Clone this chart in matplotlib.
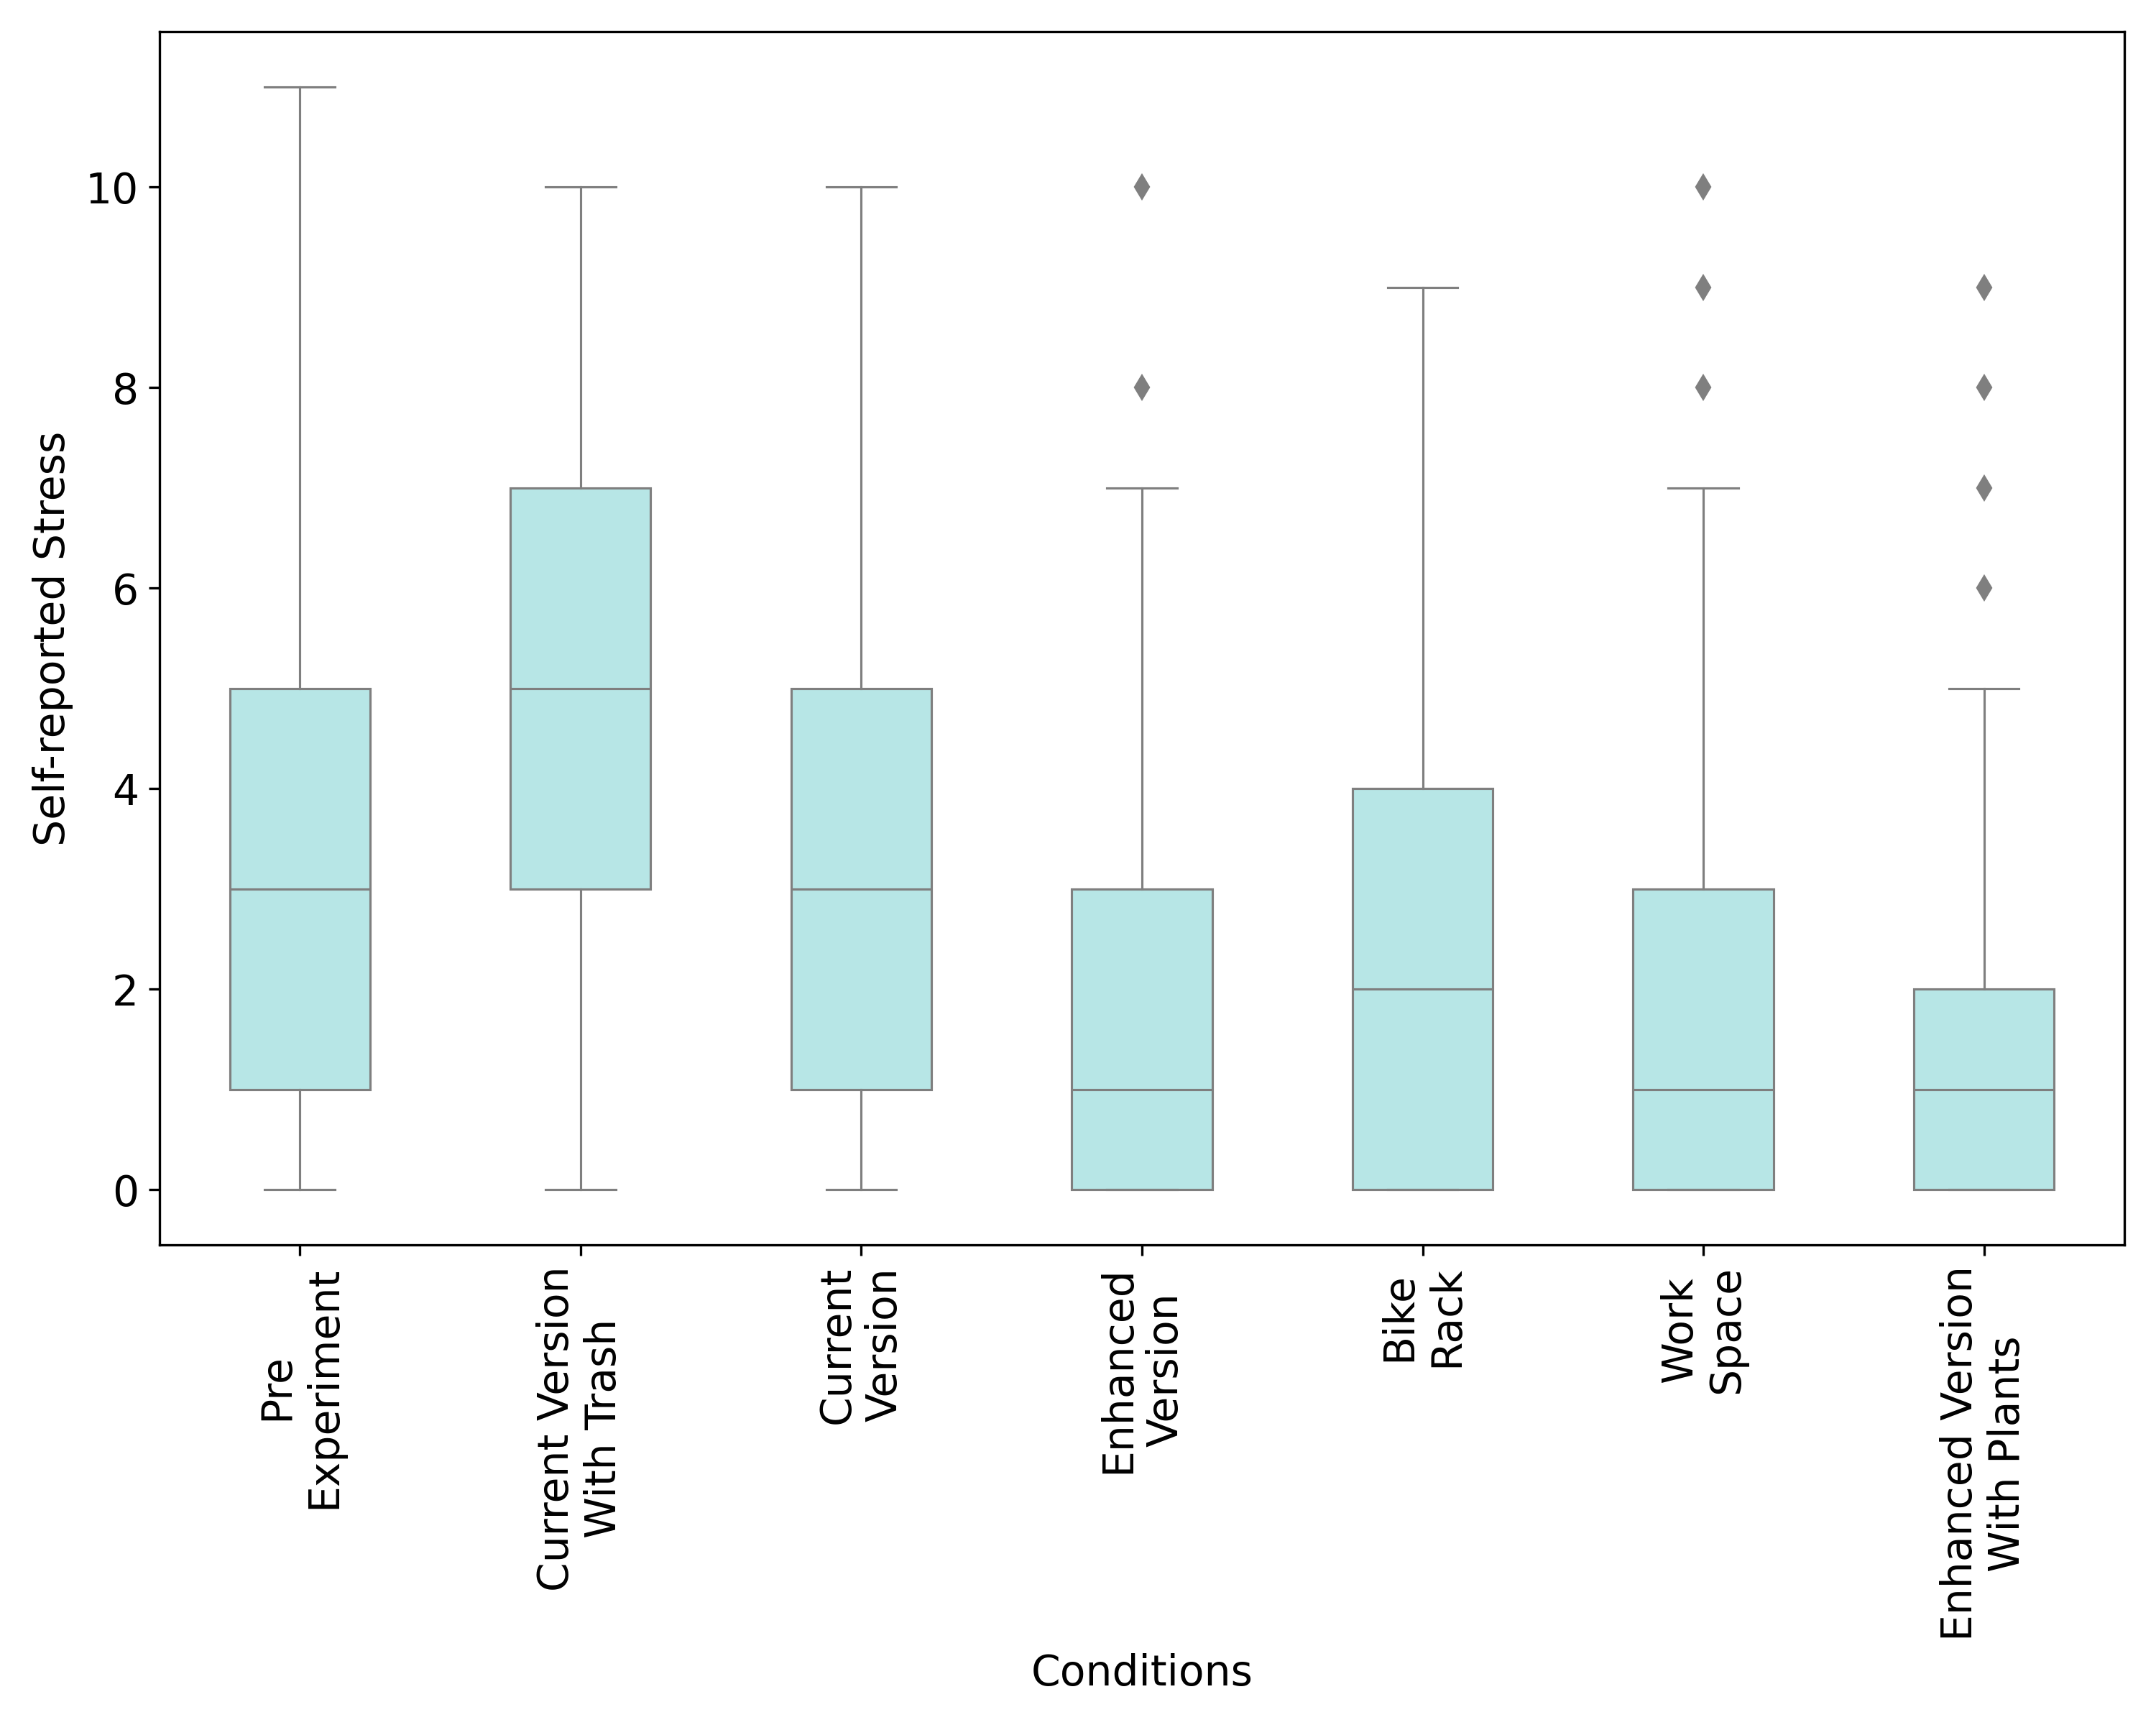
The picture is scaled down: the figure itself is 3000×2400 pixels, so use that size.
import matplotlib
matplotlib.use("Agg")
import matplotlib.pyplot as plt

# conditions and box summary values
conditions = ["Pre\nExperiment", "Current Version\nWith Trash", "Current\nVersion",
              "Enhanced\nVersion", "Bike\nRack", "Work\nSpace",
              "Enhanced Version\nWith Plants"]
whis_low = [0, 0, 0, 0, 0, 0, 0]
q1 = [1, 3, 1, 0, 0, 0, 0]
median = [3, 5, 3, 1, 2, 1, 1]
q3 = [5, 7, 5, 3, 4, 3, 2]
whis_high = [11, 10, 10, 7, 9, 7, 5]
outliers = [[], [], [], [8, 10], [], [8, 9, 10], [6, 7, 8, 9]]

stats = []
for i in range(len(conditions)):
    stats.append({"whislo": whis_low[i], "q1": q1[i], "med": median[i],
                  "q3": q3[i], "whishi": whis_high[i], "fliers": outliers[i]})

line_col = "#7f7f7f"
box_col = "#b7e6e6"

fig = plt.figure(figsize=(10, 8), dpi=300)
ax = fig.add_axes([0.074, 0.2783, 0.9113, 0.7034])

ax.bxp(stats, widths=0.5, patch_artist=True,
       boxprops=dict(facecolor=box_col, edgecolor=line_col, linewidth=0.75),
       whiskerprops=dict(color=line_col, linewidth=0.75),
       capprops=dict(color=line_col, linewidth=0.75),
       medianprops=dict(color=line_col, linewidth=0.75),
       flierprops=dict(marker="d", markersize=5, markerfacecolor=line_col,
                       markeredgecolor=line_col, linestyle="none"))

ax.set_xticks(range(1, len(conditions) + 1))
ax.set_xticklabels(conditions, rotation=90, fontsize=14)
ax.tick_params(axis="y", labelsize=14)
ax.set_yticks([0, 2, 4, 6, 8, 10])
ax.set_xlim(0.5, len(conditions) + 0.5)
ax.set_ylim(-0.55, 11.55)
ax.set_xlabel("Conditions", fontsize=14)
ax.set_ylabel("Self-reported Stress", fontsize=14)

fig.savefig("out.png")
